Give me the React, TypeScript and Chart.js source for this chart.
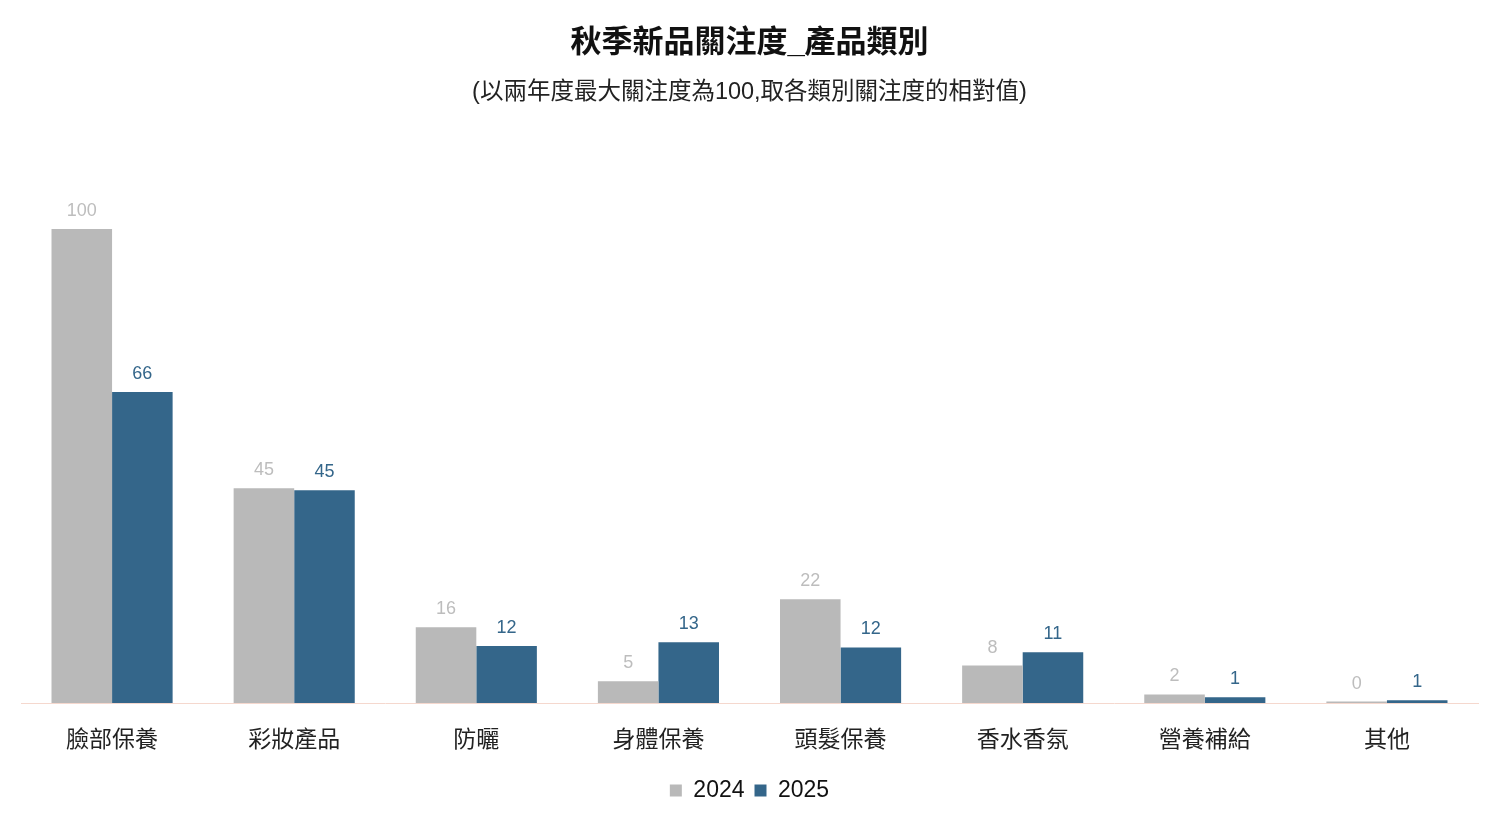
import React, { useEffect, useRef } from "react";
import { Chart, registerables } from "chart.js";

Chart.register(...registerables);

const categories = ["臉部保養", "彩妝產品", "防曬", "身體保養", "頭髮保養", "香水香氛", "營養補給", "其他"];
const series2024 = [100, 45.3, 16, 4.6, 21.9, 7.9, 1.8, 0.3];
const series2025 = [65.6, 44.9, 12, 12.8, 11.7, 10.7, 1.2, 0.6];
const seriesNames = ["2024", "2025"];
const titleText = "秋季新品關注度_產品類別";
const subtitleText = "(以兩年度最大關注度為100,取各類別關注度的相對值)";

const FONT = "'Liberation Sans', 'Noto Sans CJK TC', sans-serif";
const GRAY = "#b9b9b9";
const BLUE = "#34668a";
const LABEL_GRAY = "#bdbdbd";

const valueLabels = {
  id: "valueLabels",
  afterDatasetsDraw(chart: any) {
    const ctx = chart.ctx;
    ctx.save();
    ctx.font = `18px ${FONT}`;
    ctx.textAlign = "center";
    ctx.textBaseline = "middle";
    chart.data.datasets.forEach((ds: any, i: number) => {
      const meta = chart.getDatasetMeta(i);
      ctx.fillStyle = i === 0 ? LABEL_GRAY : BLUE;
      meta.data.forEach((bar: any, j: number) => {
        const v = Math.round(ds.data[j]);
        ctx.fillText(String(v), bar.x, bar.y - 18);
      });
    });
    ctx.restore();
  },
};

export default function App() {
  const ref = useRef<HTMLCanvasElement>(null);
  useEffect(() => {
    if (!ref.current) return;
    const chart = new Chart(ref.current, {
      type: "bar",
      data: {
        labels: categories,
        datasets: [
          { label: seriesNames[0], data: series2024, backgroundColor: GRAY, borderWidth: 0 },
          { label: seriesNames[1], data: series2025, backgroundColor: BLUE, borderWidth: 0 },
        ],
      },
      options: {
        animation: false,
        responsive: true,
        maintainAspectRatio: false,
        layout: { padding: { left: 21, right: 21, top: 0, bottom: 9 } },
        datasets: { bar: { categoryPercentage: 0.665, barPercentage: 1 } },
        plugins: {
          title: {
            display: true,
            text: titleText,
            color: "#111",
            font: { family: FONT, size: 31, weight: "bold" },
            padding: { top: 25, bottom: 16 },
          },
          subtitle: {
            display: true,
            text: subtitleText,
            color: "#222",
            font: { family: FONT, size: 23.5 },
            padding: { top: 0, bottom: 122.5 },
          },
          legend: {
            position: "bottom",
            labels: {
              boxWidth: 12,
              boxHeight: 12,
              color: "#111",
              padding: 10,
              font: { family: FONT, size: 23 },
            },
          },
          tooltip: { enabled: false },
        },
        scales: {
          x: {
            grid: { display: false, drawTicks: false },
            border: { display: true, color: "#f5d8ce", width: 1 },
            ticks: { color: "#222", padding: 24, font: { family: FONT, size: 23 } },
            afterFit(scale: any) {
              scale.height = 66;
            },
          },
          y: {
            display: false,
            min: 0,
            max: 100,
          },
        },
      },
      plugins: [valueLabels],
    } as any);
    return () => chart.destroy();
  }, []);
  return (
    <div style={{ position: "fixed", left: 0, top: 0, width: 1499, height: 821, background: "#fff" }}>
      <canvas ref={ref} />
    </div>
  );
}
